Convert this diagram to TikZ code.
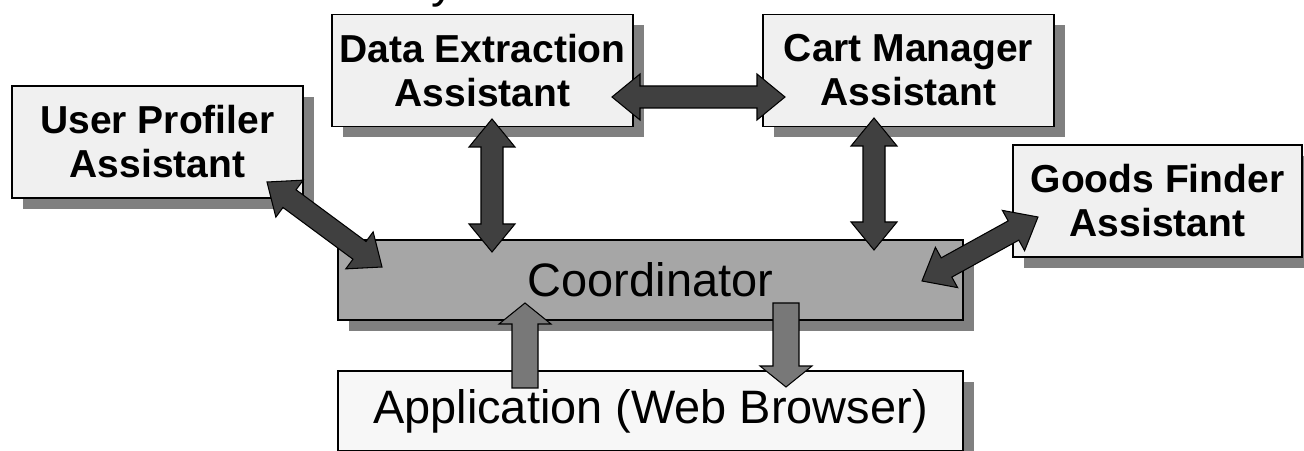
\documentclass[tikz,border=0pt]{standalone}
\usepackage{fontspec}
\setmainfont{Liberation Sans}
\usetikzlibrary{positioning}
\usetikzlibrary{calc,shadows}

\definecolor{asstgray}{HTML}{F0F0F0}
\definecolor{appgray}{HTML}{F7F7F7}
\definecolor{coordgray}{HTML}{A6A6A6}
\definecolor{shadegray}{HTML}{808080}
\definecolor{darkarrow}{HTML}{404040}
\definecolor{midarrow}{HTML}{787878}

\newcommand{\asstfont}{\fontsize{22.2}{25}\selectfont\bfseries}
\newcommand{\mainfont}{\fontsize{26.7}{30}\selectfont}

% block arrow with a head at both ends: #1 tip, #2 tip
\newcommand{\dblarrow}[2]{%
 \draw[dblarr] (#1) -- ($(#1)!0.56cm!(#2)!0.46cm!90:(#2)$) -- ($(#1)!0.56cm!(#2)!0.22cm!90:(#2)$)
  -- ($(#2)!0.56cm!(#1)!0.22cm!-90:(#1)$) -- ($(#2)!0.56cm!(#1)!0.46cm!-90:(#1)$) -- (#2)
  -- ($(#2)!0.56cm!(#1)!0.46cm!90:(#1)$) -- ($(#2)!0.56cm!(#1)!0.22cm!90:(#1)$)
  -- ($(#1)!0.56cm!(#2)!0.22cm!-90:(#2)$) -- ($(#1)!0.56cm!(#2)!0.46cm!-90:(#2)$) -- cycle;}

% block arrow with one head: #1 tail, #2 tip
\newcommand{\sglarrow}[2]{%
 \draw[sglarr] ($(#1)!0.26cm!90:(#2)$) -- ($(#2)!0.42cm!(#1)!0.26cm!-90:(#1)$)
  -- ($(#2)!0.42cm!(#1)!0.52cm!-90:(#1)$) -- (#2) -- ($(#2)!0.42cm!(#1)!0.52cm!90:(#1)$)
  -- ($(#2)!0.42cm!(#1)!0.26cm!90:(#1)$) -- ($(#1)!0.26cm!-90:(#2)$) -- cycle;}

\begin{document}
\begin{tikzpicture}[
 shd/.style={drop shadow={shadow xshift=0.22cm, shadow yshift=-0.22cm, fill=shadegray, opacity=1}},
 asst/.style={draw=black, line width=0.8pt, fill=asstgray, shd, inner sep=0pt,
  minimum width=5.82cm, minimum height=2.24cm, align=center, font=\asstfont},
 wide/.style={draw=black, line width=0.8pt, shd, inner sep=0pt,
  minimum width=12.5cm, minimum height=1.6cm, font=\mainfont},
 dblarr/.style={draw=black, line width=0.6pt, fill=darkarrow, line join=miter},
 sglarr/.style={draw=black, line width=0.6pt, fill=midarrow, line join=miter}]
 \useasboundingbox (0,0) rectangle (26.08,9);

 % end of the title line above
 \node[anchor=base west, inner sep=0pt, font=\mainfont] (ttl) at (8.62,9.04) {y};

 % the assistants
 \node[asst, minimum width=6.02cm] (dea) at (9.65,7.59) {Data Extraction\\Assistant};
 \node[asst] (cma) at (18.17,7.59) {Cart Manager\\Assistant};
 \node[asst] (upa) at (3.15,6.16) {User Profiler\\Assistant};
 \node[asst, minimum width=5.78cm] (gfa) at (23.15,4.98) {Goods Finder\\Assistant};

 % coordinator and application
 \node[wide, fill=coordgray] (crd) at (13.01,3.40) {Coordinator};
 \node[wide, fill=appgray] (app) at (13.01,0.78) {Application (Web Browser)};

 % arrow ends
 \coordinate (dea-e) at (12.24,7.06);
 \coordinate (cma-w) at (15.70,7.06);
 \coordinate (dea-s) at (9.84,6.62);
 \coordinate (crd-dea) at (9.84,3.96);
 \coordinate (cma-s) at (17.48,6.64);
 \coordinate (crd-cma) at (17.48,4.00);
 \coordinate (upa-se) at (5.34,5.36);
 \coordinate (crd-upa) at (7.64,3.66);
 \coordinate (gfa-sw) at (20.76,4.66);
 \coordinate (crd-gfa) at (18.44,3.38);
 \coordinate (app-up) at (10.50,1.24);
 \coordinate (crd-up) at (10.50,2.94);
 \coordinate (crd-dn) at (15.72,2.94);
 \coordinate (app-dn) at (15.72,1.26);

 \dblarrow{dea-e}{cma-w}
 \dblarrow{dea-s}{crd-dea}
 \dblarrow{cma-s}{crd-cma}
 \dblarrow{upa-se}{crd-upa}
 \dblarrow{gfa-sw}{crd-gfa}
 \sglarrow{app-up}{crd-up}
 \sglarrow{crd-dn}{app-dn}
\end{tikzpicture}
\end{document}
